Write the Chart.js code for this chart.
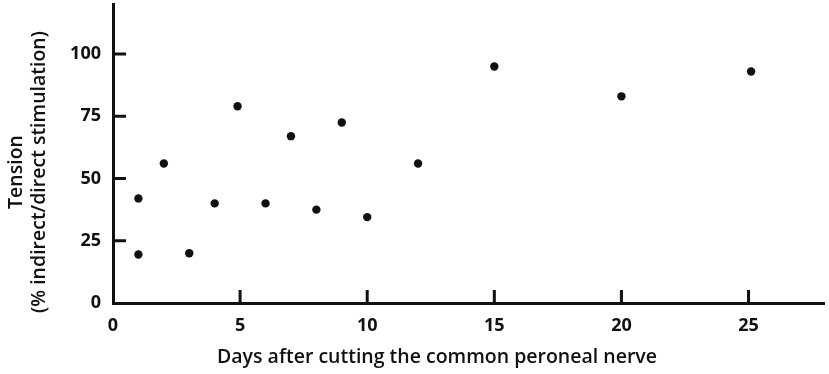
<!DOCTYPE html>
<html>
<head>
<meta charset="utf-8">
<script src="https://cdn.jsdelivr.net/npm/chart.js@4"></script>
<style>
  html, body { margin: 0; padding: 0; background: #fff; }
  #wrap { width: 829px; height: 374px; }
</style>
</head>
<body>
<div id="wrap"><canvas id="tensionChart"></canvas></div>
<script>
// Tension after nerve section
const days    = [1, 1, 2, 3, 4, 4.9, 6, 7, 8, 9, 10, 12, 15, 20, 25.1];
const tension = [42, 19.5, 56, 20, 40, 79, 40, 67, 37.5, 72.5, 34.5, 56, 95, 83, 93];
const xTicks  = [0, 5, 10, 15, 20, 25];
const yTicks  = [0, 25, 50, 75, 100];

const xTitle = 'Days after cutting the common peroneal nerve';
const yTitle = ['Tension', '(% indirect/direct stimulation)'];

const FONT = "'Open Sans', 'DejaVu Sans', sans-serif";

// inward tick marks + axis titles placed like the original
const axisExtras = {
    id: 'axisExtras',
    afterDraw(chart) {
        const c = chart.ctx;
        const area = chart.chartArea;
        c.save();
        c.fillStyle = '#111';
        for (const v of xTicks) {
            if (v === 0) continue;
            const px = chart.scales.x.getPixelForValue(v);
            c.fillRect(px - 1.5, area.bottom - 13, 3, 13);
        }
        for (const v of yTicks) {
            if (v === 0) continue;
            const py = chart.scales.y.getPixelForValue(v);
            c.fillRect(area.left, py - 1.5, 13, 3);
        }

        c.font = '600 19.5px ' + FONT;
        c.textAlign = 'center';
        c.textBaseline = 'middle';
        c.fillText(xTitle, 437, 357);

        c.translate(0, 172);
        c.rotate(-Math.PI / 2);
        c.fillText(yTitle[0], 0, 16);
        c.fillText(yTitle[1], 0, 39);
        c.restore();
    }
};

const ctx = document.getElementById('tensionChart').getContext('2d');

new Chart(ctx, {
    type: 'scatter',
    data: {
        datasets: [{
            data: days.map((d, i) => ({ x: d, y: tension[i] })),
            backgroundColor: '#111',
            borderWidth: 0,
            pointRadius: 4.2,
            pointHoverRadius: 4.2
        }]
    },
    options: {
        responsive: true,
        maintainAspectRatio: false,
        animation: false,
        layout: { padding: { top: 3, right: 0, left: 0, bottom: 0 } },
        plugins: {
            legend: { display: false },
            tooltip: { enabled: false }
        },
        scales: {
            x: {
                type: 'linear',
                min: 0,
                max: 28,
                afterFit(scale) {
                    scale.height = 71;
                    scale.paddingLeft = 0;
                    scale.paddingRight = 0;
                },
                afterBuildTicks(scale) { scale.ticks = xTicks.map(v => ({ value: v })); },
                grid: { display: false, drawTicks: false, tickLength: 0 },
                border: { display: true, color: '#111', width: 3 },
                ticks: {
                    color: '#111',
                    padding: 12,
                    maxRotation: 0,
                    font: { family: FONT, size: 18, weight: '700' }
                }
            },
            y: {
                type: 'linear',
                min: 0,
                max: 120,
                afterFit(scale) {
                    scale.width = 113;
                    scale.paddingTop = 0;
                    scale.paddingBottom = 0;
                },
                afterBuildTicks(scale) { scale.ticks = yTicks.map(v => ({ value: v })); },
                grid: { display: false, drawTicks: false, tickLength: 0 },
                border: { display: true, color: '#111', width: 3 },
                ticks: {
                    color: '#111',
                    padding: 12,
                    font: { family: FONT, size: 18, weight: '700' }
                }
            }
        }
    },
    plugins: [axisExtras]
});
</script>
</body>
</html>
